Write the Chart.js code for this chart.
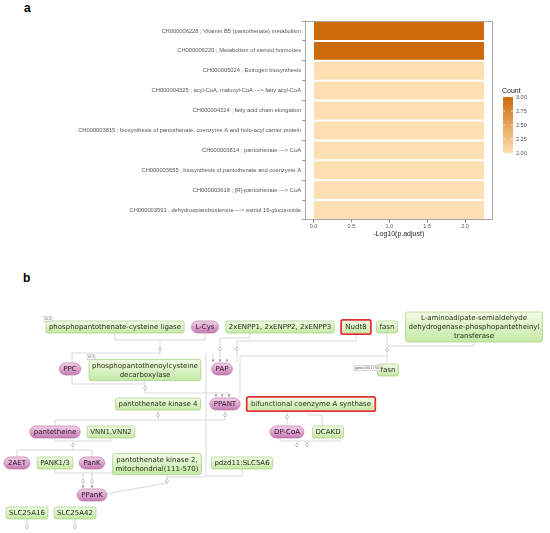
<!DOCTYPE html>
<html>
<head>
<meta charset="UTF-8">
<title>Enrichment and pathway</title>
<script src="https://cdn.jsdelivr.net/npm/chart.js@4.4.1/dist/chart.umd.min.js"></script>
<style>
body { margin: 0; background: #fff; width: 550px; height: 533px; position: relative; overflow: hidden; font-family: "Liberation Sans", Arial, sans-serif; }
.tag { position: absolute; font-weight: bold; font-size: 12px; color: #000; }
#wrapA { position: absolute; left: 0; top: 0; }
#wrapB { position: absolute; left: 0; top: 285px; }
</style>
</head>
<body>
<div class="tag" style="left:24px;top:1px">a</div>
<div class="tag" style="left:23px;top:271px">b</div>
<div id="wrapA"><canvas id="enrichChart" width="550" height="238"></canvas></div>
<div id="wrapB"><canvas id="pathwayChart" width="550" height="248"></canvas></div>

<script>
// ---- panel a data
const termLabels = [
	"CH000006228 ; Vitamin B5 (pantothenate) metabolism",
	"CH000006220 ; Metabolism of steroid hormones",
	"CH000005024 ; Estrogen biosynthesis",
	"CH000004325 ; acyl-CoA, malonyl-CoA ---> fatty acyl-CoA",
	"CH000004324 ; fatty acid chain elongation",
	"CH000003815 ; biosynthesis of pantothenate, coenzyme A and holo-acyl carrier protein",
	"CH000003814 ; pantothenate ---> CoA",
	"CH000003655 ; biosynthesis of pantothenate and coenzyme A",
	"CH000003618 ; [R]-pantothenate ---> CoA",
	"CH000003591 ; dehydroepiandrosterone ---> estriol 16-glucuronide"
];
const logPadj = [2.25, 2.25, 2.25, 2.25, 2.25, 2.25, 2.25, 2.25, 2.25, 2.25];
const counts = [3, 3, 2, 2, 2, 2, 2, 2, 2, 2];
const xTicks = [0, 0.5, 1.0, 1.5, 2.0];
const countTicks = [2.00, 2.25, 2.50, 2.75, 3.00];

// ---- panel b data
const nodeNames = [
	"phosphopantothenate-cysteine ligase", "L-Cys", "2xENPP1, 2xENPP2, 2xENPP3", "Nudt8", "fasn",
	"L-aminoadipate-semialdehyde\ndehydrogenase-phosphopantetheinyl\ntransferase",
	"PPC", "phosphopantothenoylcysteine\ndecarboxylase", "PAP", "fasn",
	"pantothenate kinase 4", "PPANT", "bifunctional coenzyme A synthase",
	"pantetheine", "VNN1,VNN2", "DP-CoA", "DCAKD",
	"2AET", "PANK1/3", "PanK", "pantothenate kinase 2,\nmitochondrial(111-570)", "pdzd11:SLC5A6",
	"PPanK", "SLC25A16", "SLC25A42"
];
const nodeX = [115, 205, 280, 356, 387, 474, 70, 145, 222, 388, 158, 225, 311, 55, 111, 287, 328, 17, 55, 92, 157, 242, 92, 27, 75];
const nodeY = [327, 327, 327, 327, 327, 327, 369, 370, 369, 370, 404, 404, 404, 432, 432, 432, 432, 463, 463, 463, 464, 463, 495, 513, 513];
const nodeKind = ["gene", "compound", "gene", "hit", "gene", "gene", "compound", "gene", "compound", "gene",
	"gene", "compound", "hit", "compound", "gene", "compound", "gene", "compound", "gene", "compound",
	"gene", "gene", "compound", "gene", "gene"];

const edgePaths = [
	[[115, 333], [115, 340], [160, 340], [160, 356]],
	[[205, 333], [205, 340], [160, 340]],
	[[160, 353], [72, 353], [72, 362]],
	[[72, 376], [72, 384], [145, 384]],
	[[145, 381], [145, 393], [229, 393], [229, 397]],
	[[216, 393], [216, 397]],
	[[206, 353], [206, 477], [167, 477]],
	[[250, 333], [250, 338], [220, 338], [220, 362]],
	[[356, 334], [356, 341], [237, 341], [237, 362]],
	[[213, 353], [213, 362]],
	[[387, 333], [387, 363]],
	[[474, 342], [474, 346], [387, 346]],
	[[387, 356], [240, 356], [240, 397]],
	[[158, 410], [158, 420], [55, 420], [55, 426]],
	[[225, 410], [225, 420], [158, 420]],
	[[287, 410], [287, 426]],
	[[308, 410], [308, 415], [322, 415], [322, 441]],
	[[280, 438], [280, 441], [340, 441], [340, 438]],
	[[297, 441], [297, 447]],
	[[307, 441], [307, 447]],
	[[55, 438], [55, 441], [73, 441], [73, 450]],
	[[111, 438], [111, 441], [73, 441]],
	[[73, 450], [17, 450], [17, 457]],
	[[73, 450], [92, 450], [92, 457]],
	[[55, 469], [55, 473], [200, 473]],
	[[83, 473], [83, 488]],
	[[92, 469], [92, 488]],
	[[167, 473], [167, 484]],
	[[242, 469], [242, 476], [206, 476]],
	[[105, 494], [167, 483]],
	[[27, 519], [27, 528]],
	[[75, 519], [75, 528]]
];
const diamondX = [160, 145, 220, 237, 387, 158, 225, 287, 297, 307, 73, 83, 92, 167, 27, 75];
const diamondY = [349, 388, 349, 349, 350, 415, 415, 417, 445, 445, 445, 481, 481, 481, 527, 527];
const arrowX = [213, 220, 227, 216, 222, 229, 83, 92];
const arrowY = [362, 362, 362, 397, 397, 397, 488, 488];
const tinyTags = ["N:3", "N:3", "gwet0001750"];
const tinyX = [48, 91, 367];
const tinyY = [319, 357, 368];

// ---- helpers
function mixColor(t) {
	const lo = [253, 223, 177], hi = [204, 106, 12];
	const c = lo.map((v, i) => Math.round(v + (hi[i] - v) * t));
	return "rgb(" + c.join(",") + ")";
}

const panelA = {
	id: "panelA",
	afterDraw(chart) {
		const ctx = chart.ctx, a = chart.chartArea;
		ctx.save();
		ctx.strokeStyle = "#a8a8a8";
		ctx.lineWidth = 1;
		ctx.strokeRect(Math.round(a.left) + 0.5, Math.round(a.top) + 0.5, Math.round(a.right - a.left) - 1, Math.round(a.bottom - a.top) - 1);

		// colour bar legend
		const bx = 503, bw = 10, top = 97, bot = 153;
		const g = ctx.createLinearGradient(0, top, 0, bot);
		g.addColorStop(0, mixColor(1));
		g.addColorStop(1, mixColor(0));
		ctx.fillStyle = g;
		ctx.fillRect(bx, top, bw, bot - top);
		ctx.fillStyle = "#222";
		ctx.font = '7px "Liberation Sans", Arial, sans-serif';
		ctx.textBaseline = "middle";
		ctx.fillText("Count", 502, 91);
		ctx.font = '5.5px "Liberation Sans", Arial, sans-serif';
		ctx.fillStyle = "#4d4d4d";
		countTicks.forEach(v => {
			const y = bot - (v - 2) / 1 * (bot - top);
			ctx.fillText(v.toFixed(2), 516, y);
			ctx.strokeStyle = "#fff";
			ctx.lineWidth = 0.6;
			ctx.beginPath();
			ctx.moveTo(bx, y); ctx.lineTo(bx + 2, y);
			ctx.moveTo(bx + bw - 2, y); ctx.lineTo(bx + bw, y);
			ctx.stroke();
		});
		ctx.restore();
	}
};

new Chart(document.getElementById("enrichChart"), {
	type: "bar",
	data: {
		labels: termLabels,
		datasets: [{
			data: logPadj,
			backgroundColor: counts.map(c => mixColor((c - 2) / 1)),
			barPercentage: 0.9,
			categoryPercentage: 1.0
		}]
	},
	options: {
		indexAxis: "y",
		responsive: false,
		animation: false,
		layout: { padding: { top: 21, right: 57.5, left: 0, bottom: 0 } },
		plugins: { legend: { display: false }, tooltip: { enabled: false } },
		scales: {
			x: {
				type: "linear", min: -0.1125, max: 2.3625,
				afterBuildTicks: s => { s.ticks = xTicks.map(v => ({ value: v })); },
				afterFit: s => { s.height = 18; },
				ticks: { callback: v => Number(v).toFixed(1), font: { size: 5.5, family: '"Liberation Sans", Arial' }, color: "#555", padding: 1, maxRotation: 0 },
				grid: { drawOnChartArea: false, tickLength: 2.5, color: "#888" },
				border: { display: false },
				title: { display: true, text: "-Log10(p.adjust)", font: { size: 7, family: '"Liberation Sans", Arial' }, color: "#222", padding: { top: 0, bottom: 0 } }
			},
			y: {
				afterFit: s => { s.width = 305; },
				ticks: { autoSkip: false, font: { size: 5.75, family: '"Liberation Sans", Arial' }, color: "#555", padding: 1.5 },
				grid: { drawOnChartArea: false, tickLength: 2.5, color: "#888" },
				border: { display: false }
			}
		}
	},
	plugins: [panelA]
});

// ---- panel b: pathway diagram drawn on scatter scales
const pathwayPlugin = {
	id: "pathway",
	afterDatasetsDraw(chart) {
		const ctx = chart.ctx, sx = chart.scales.x, sy = chart.scales.y;
		const px = v => sx.getPixelForValue(v), py = v => sy.getPixelForValue(v);
		ctx.save();

		// edges
		ctx.strokeStyle = "#cfcfcf";
		ctx.lineWidth = 0.8;
		ctx.lineJoin = "round";
		edgePaths.forEach(path => {
			ctx.beginPath();
			path.forEach((p, i) => { i ? ctx.lineTo(px(p[0]), py(p[1])) : ctx.moveTo(px(p[0]), py(p[1])); });
			ctx.stroke();
		});
		diamondX.forEach((x, i) => {
			const cx = px(x), cy = py(diamondY[i]);
			ctx.beginPath();
			ctx.moveTo(cx, cy - 2); ctx.lineTo(cx + 1.6, cy); ctx.lineTo(cx, cy + 2); ctx.lineTo(cx - 1.6, cy); ctx.closePath();
			ctx.fillStyle = "#fff"; ctx.fill();
			ctx.strokeStyle = "#b5b5b5"; ctx.stroke();
		});
		arrowX.forEach((x, i) => {
			const cx = px(x), cy = py(arrowY[i]);
			ctx.beginPath();
			ctx.moveTo(cx - 1.5, cy - 2.5); ctx.lineTo(cx + 1.5, cy - 2.5); ctx.lineTo(cx, cy); ctx.closePath();
			ctx.fillStyle = "#a98aa2"; ctx.fill();
		});

		// nodes
		ctx.font = '7px "DejaVu Sans", sans-serif';
		ctx.textAlign = "center";
		ctx.textBaseline = "middle";
		nodeNames.forEach((name, i) => {
			const lines = name.split("\n");
			const kind = nodeKind[i];
			const tw = Math.max(...lines.map(l => ctx.measureText(l).width));
			const h = lines.length * 9 + 3;
			const w = tw + (kind === "compound" ? 8 : 6);
			const cx = px(nodeX[i]), cy = py(nodeY[i]);
			const x0 = cx - w / 2, y0 = cy - h / 2;
			const g = ctx.createLinearGradient(0, y0, 0, y0 + h);
			ctx.beginPath();
			if (kind === "compound") {
				g.addColorStop(0, "#f3d3ea");
				g.addColorStop(1, "#c67ab2");
				ctx.roundRect(x0, y0, w, h, h / 2);
				ctx.fillStyle = g; ctx.fill();
				ctx.strokeStyle = "#b978a8"; ctx.lineWidth = 0.7; ctx.stroke();
			} else {
				g.addColorStop(0, "#f1fbe6");
				g.addColorStop(1, "#c6e9a6");
				ctx.roundRect(x0, y0, w, h, 2);
				ctx.fillStyle = g; ctx.fill();
				if (kind === "hit") {
					ctx.strokeStyle = "#e0322c"; ctx.lineWidth = 1.8;
					ctx.beginPath(); ctx.roundRect(x0 - 1.2, y0 - 1.2, w + 2.4, h + 2.4, 2); ctx.stroke();
				} else {
					ctx.strokeStyle = "#a3d07f"; ctx.lineWidth = 0.7; ctx.stroke();
				}
			}
			ctx.fillStyle = kind === "compound" ? "#2c1029" : "#1f2a14";
			lines.forEach((l, k) => ctx.fillText(l, cx, cy + (k - (lines.length - 1) / 2) * 9 + 0.5));
		});

		// tiny annotation tags
		ctx.font = '3.5px "DejaVu Sans", sans-serif';
		tinyTags.forEach((t, i) => {
			const cx = px(tinyX[i]), cy = py(tinyY[i]);
			const w = ctx.measureText(t).width + 2;
			ctx.fillStyle = "#fff";
			ctx.fillRect(cx - w / 2, cy - 2.5, w, 5);
			ctx.strokeStyle = "#aaa"; ctx.lineWidth = 0.5;
			ctx.strokeRect(cx - w / 2, cy - 2.5, w, 5);
			ctx.fillStyle = "#555";
			ctx.fillText(t, cx, cy + 0.2);
		});
		ctx.restore();
	}
};

new Chart(document.getElementById("pathwayChart"), {
	type: "scatter",
	data: {
		datasets: [{ data: nodeX.map((x, i) => ({ x: x, y: nodeY[i] })), pointRadius: 0 }]
	},
	options: {
		responsive: false,
		animation: false,
		layout: { padding: 0 },
		plugins: { legend: { display: false }, tooltip: { enabled: false } },
		scales: {
			x: { type: "linear", min: 0, max: 550, display: false },
			y: { type: "linear", min: 285, max: 533, reverse: true, display: false }
		}
	},
	plugins: [pathwayPlugin]
});
</script>
</body>
</html>
